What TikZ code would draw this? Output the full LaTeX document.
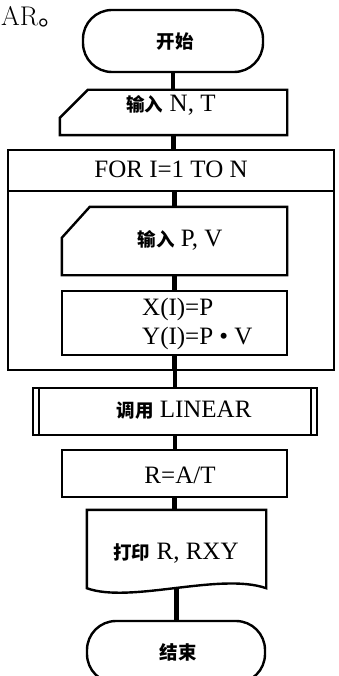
\documentclass[tikz,border=0pt]{standalone}
\usepackage{fontspec}
\newfontfamily\tms{Liberation Serif}
\newfontfamily\cjk{Noto Sans CJK SC}
\newcommand\zh[1]{{\cjk\bfseries\fontsize{18.5}{20}\selectfont #1}}
\tikzset{
  outline/.style={line width=2.4pt, line join=miter},
  box/.style={draw, line width=2.4pt, inner sep=0pt},
  shapebox/.style={draw=none, inner sep=0pt},
  term/.style={draw, line width=2.4pt, rounded corners=29pt, minimum width=180pt, minimum height=62pt, inner sep=0pt},
  conn/.style={line width=4.2pt},
  lat/.style={font=\tms\fontsize{25}{29}\selectfont, inner sep=0pt},
}
\begin{document}
\begin{tikzpicture}[x=1pt,y=-1pt]
\useasboundingbox (0,0) rectangle (339,676);
\clip (0,0) rectangle (339,676);

% caption fragment
\node[anchor=base west, inner sep=0pt] (cap) at (1,26) {\fontsize{27}{30}\selectfont AR{\cjk\fontsize{27}{30}\selectfont 。}};

% start
\node[term] (start) at (173,41) {};
\node[inner sep=0pt] (tstart) at (175,42) {\zh{开始}};

% input N, T
\node[shapebox, minimum width=227pt, minimum height=45pt] (in1) at (173.5,112.5) {};
\draw[outline] ([xshift=28pt]in1.north west) -- (in1.north east) -- (in1.south east) -- (in1.south west) -- ([yshift=-28pt]in1.north west) -- cycle;
\node[lat] (tin1) at (171,105) {\zh{输入} N, T};

% loop
\node[box, line width=2.6pt, minimum width=326pt, minimum height=220pt] (loop) at (171,260) {};
\node[box, minimum width=326pt, minimum height=41pt] (hdr) at (171,170.5) {};
\node[lat] (thdr) at (171,169) {FOR I=1 TO N};

% input P, V
\node[shapebox, minimum width=225pt, minimum height=68pt] (in2) at (174.5,241) {};
\draw[outline] ([xshift=28pt]in2.north west) -- (in2.north east) -- (in2.south east) -- (in2.south west) -- ([yshift=-31pt]in2.north west) -- cycle;
\node[lat] (tin2) at (180,240) {\zh{输入} P, V};

% X(I), Y(I)
\node[box, minimum width=225pt, minimum height=64pt] (xb) at (174.5,323) {};
\node[lat, anchor=west, align=left] (txb) at (142,323.5) {X(I)=P\\Y(I)=P • V};

% call LINEAR
\node[box, minimum width=284pt, minimum height=47pt] (lin) at (175,411.5) {};
\draw[outline] ([xshift=7pt]lin.north west) -- ([xshift=7pt]lin.south west);
\draw[outline] ([xshift=-7pt]lin.north east) -- ([xshift=-7pt]lin.south east);
\node[lat] (tlin) at (184,410) {\zh{调用} LINEAR};

% R = A/T
\node[box, minimum width=225pt, minimum height=47pt] (rb) at (174.5,473.5) {};
\node[lat] (trb) at (180,475) {R=A/T};

% print (document)
\node[shapebox, minimum width=179pt, minimum height=78pt] (doc) at (176.5,549) {};
\draw[outline] (doc.south west) -- (doc.north west) -- (doc.north east) -- (doc.south east)
  .. controls (220,572) and (130,604) .. (doc.south west) -- cycle;
\node[lat] (tdoc) at (176,553) {\zh{打印} R, RXY};

% end
\node[term, minimum width=178pt] (end) at (176,652) {};
\node[inner sep=0pt] (tend) at (178,652) {\zh{结束}};

% connectors
\draw[conn] (start.south) -- (start.south |- in1.north);
\draw[conn] (in1.south) -- (in1.south |- hdr.north);
\draw[conn] (in2.north |- hdr.south) -- (in2.north);
\draw[conn] (in2.south) -- (xb.north);
\draw[conn] (xb.south) -- (xb.south |- loop.south);
\draw[conn] (lin.north |- loop.south) -- (lin.north);
\draw[conn] (lin.south) -- (lin.south |- rb.north);
\draw[conn] (rb.south) -- (rb.south |- doc.north);
\draw[conn] (doc.south) -- (doc.south |- end.north);
\end{tikzpicture}
\end{document}
